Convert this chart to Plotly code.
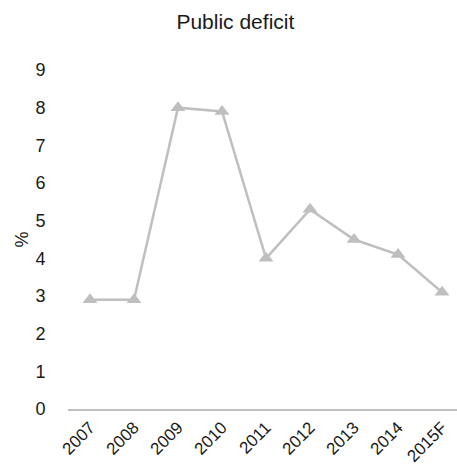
import plotly.graph_objects as go

years = ["2007", "2008", "2009", "2010", "2011", "2012", "2013", "2014", "2015F"]
deficit = [2.9, 2.9, 8.0, 7.9, 4.0, 5.3, 4.5, 4.1, 3.1]
y_ticks = list(range(0, 10))

FONT = "Liberation Sans Narrow, Arial Narrow, Liberation Sans, Arial, sans-serif"

fig = go.Figure()
fig.add_trace(go.Scatter(
    x=list(range(len(years))), y=deficit, mode="lines+markers",
    line=dict(color="#bfbfbf", width=2.5),
    marker=dict(symbol="triangle-up", size=13, color="#bfbfbf"),
    showlegend=False,
))
fig.update_layout(
    width=457, height=467,
    margin=dict(l=68, r=0, t=70, b=58),
    plot_bgcolor="white", paper_bgcolor="white",
    font=dict(family=FONT, size=18, color="#1a1a1a"),
    title=dict(text="Public deficit", x=0.515, xanchor="center", y=0.953, yanchor="middle",
               font=dict(size=21, color="#1a1a1a")),
)
fig.update_xaxes(
    tickmode="array", tickvals=list(range(len(years))), ticktext=years,
    range=[-0.5, 8.34], tickangle=-45, showgrid=False, zeroline=False,
    showline=True, linecolor="#bfbfbf", linewidth=2,
    ticks="", tickfont=dict(size=17), automargin=False,
)
fig.update_yaxes(
    range=[0, 9], tickvals=y_ticks, showgrid=False, zeroline=False,
    showline=False, ticks="outside", ticklen=18, tickcolor="white",
    automargin=False,
    title=dict(text="%", standoff=2, font=dict(size=18)),
)
fig.write_html("out.html")
